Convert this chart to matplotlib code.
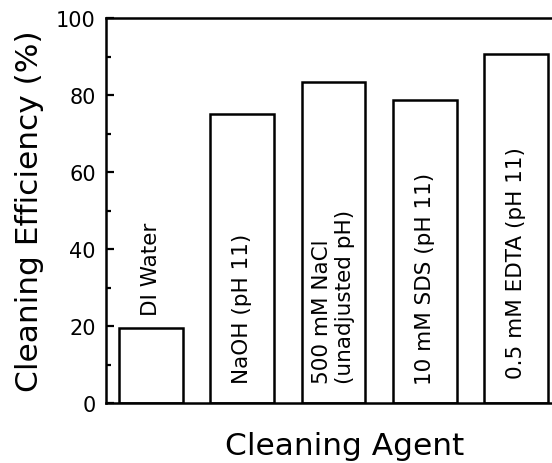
import matplotlib
matplotlib.use("Agg")
import matplotlib.pyplot as plt
from matplotlib.ticker import MultipleLocator

# data
agents = ["DI Water", "NaOH (pH 11)", "500 mM NaCl\n(unadjusted pH)",
          "10 mM SDS (pH 11)", "0.5 mM EDTA (pH 11)"]
efficiency = [19.5, 75.1, 83.4, 78.7, 90.7]

plt.rcParams["font.family"] = "DejaVu Sans"

fig = plt.figure(figsize=(5.52, 4.64), dpi=100)
ax = fig.add_axes([0.1913, 0.1293, 0.826, 0.829])

x = list(range(1, len(agents) + 1))
ax.bar(x, efficiency, width=0.7, color="white", edgecolor="black", linewidth=1.8)

# labels written inside the bars (DI Water sits above its short bar)
label_y = [efficiency[0] + 3.5, 5.2, 5.2, 5.0, 6.5]
for xi, yi, name in zip(x, label_y, agents):
    ax.text(xi, yi, name, rotation=90, ha="center", va="bottom",
            multialignment="left", fontsize=15.5, linespacing=1.15)

ax.set_xlim(0.5, 5.5)
ax.set_ylim(0, 100)
ax.set_xticks([])
ax.yaxis.set_major_locator(MultipleLocator(20))
ax.yaxis.set_minor_locator(MultipleLocator(10))
ax.tick_params(axis="y", which="major", direction="in", length=6, width=1.6,
               labelsize=15, pad=7)
ax.tick_params(axis="y", which="minor", direction="in", length=3.5, width=1.6)

for side in ["left", "bottom", "top", "right"]:
    ax.spines[side].set_linewidth(1.8)

ax.set_ylabel("Cleaning Efficiency (%)", fontsize=22.5, labelpad=9)
ax.set_xlabel("Cleaning Agent", fontsize=22.5)
ax.xaxis.set_label_coords(0.525, -0.072)

fig.savefig("out.png", dpi=100)
